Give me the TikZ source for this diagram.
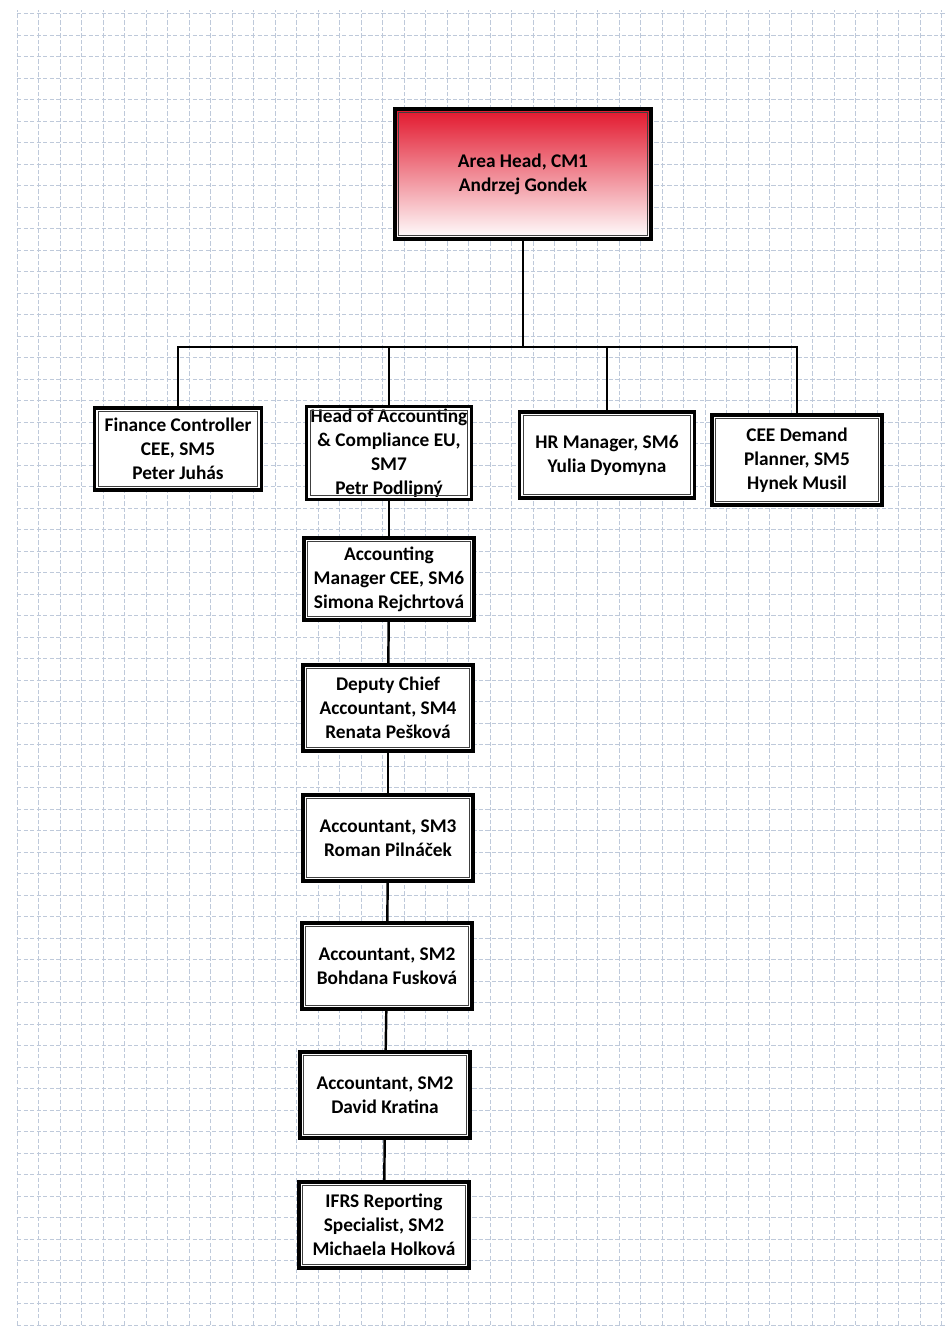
\documentclass[tikz,border=0pt]{standalone}
\usepackage{fontspec}
\setmainfont{Carlito}

\definecolor{gridblue}{RGB}{190,201,218}
\definecolor{headred}{RGB}{226,22,44}

\begin{document}
\begin{tikzpicture}[
	orgbox/.style = {draw, line width = 1.8pt, fill = white, align = center, minimum width = 3.4 cm, minimum height = 1.72 cm, inner sep = 2pt, font = \fontsize{11}{13.6}\selectfont\bfseries},
	link/.style = {line width = 1.4pt},
	gridline/.style = {draw = gridblue, line width = 0.4pt, dash pattern = on 2.5pt off 1.2pt}
]

	\useasboundingbox (0, 0) rectangle (18.92, 26.66);

	% Paper grid
	
	\begin{scope}[shift = {(0.34, 0.16)}]
		\draw [gridline, step = 0.43] (0, 0) grid (18.6, 26.3);
	\end{scope}
	
	% Area head
	
	\node [orgbox, minimum width = 5.12 cm, minimum height = 2.6 cm, top color = headred, bottom color = white] (head) at (10.46, 23.18) {Area Head, CM1\\Andrzej Gondek};
	
	% Direct reports
	
	\node [orgbox, minimum width = 3.34 cm, minimum height = 1.64 cm] (fin) at (3.56, 17.68) {Finance Controller\\CEE, SM5\\Peter Juhás};
	\node [orgbox, minimum width = 3.3 cm, minimum height = 1.86 cm, inner ysep = 0pt] (hoa) at (7.78, 17.60) {Head of Accounting\\\& Compliance EU,\\SM7\\Petr Podlipný};
	\node [orgbox, minimum width = 3.5 cm] (hr) at (12.14, 17.56) {HR Manager, SM6\\Yulia Dyomyna};
	\node [orgbox, minimum height = 1.8 cm] (cee) at (15.94, 17.46) {CEE Demand\\Planner, SM5\\Hynek Musil};
	
	% Accounting column
	
	\node [orgbox, minimum height = 1.64 cm] (accm) at (7.78, 15.08) {Accounting\\Manager CEE, SM6\\Simona Rejchrtová};
	\node [orgbox] (dep) at (7.76, 12.5) {Deputy Chief\\Accountant, SM4\\Renata Pešková};
	\node [orgbox] (acc3) at (7.76, 9.9) {Accountant, SM3\\Roman Pilnáček};
	\node [orgbox] (acc2a) at (7.74, 7.34) {Accountant, SM2\\Bohdana Fusková};
	\node [orgbox] (acc2b) at (7.70, 4.76) {Accountant, SM2\\David Kratina};
	\node [orgbox] (ifrs) at (7.68, 2.16) {IFRS Reporting\\Specialist, SM2\\Michaela Holková};
	
	% Inner frames
	
	\foreach \nd in {head, fin, hoa, hr, cee, accm, dep, acc3, acc2a, acc2b, ifrs}
		\draw [line width = 0.6pt, black!75] ([shift = {(3pt, -3pt)}] \nd.north west) rectangle ([shift = {(-3pt, 3pt)}] \nd.south east);
	
	% Connectors
	
	\coordinate (split) at (10.46, 19.72);
	\draw [link] (head) -- (split);
	\draw [link] (fin) |- (split) -| (cee);
	\draw [link] (hoa) -- (hoa |- split);
	\draw [link] (hr) -- (hr |- split);
	
	\draw [link] (hoa) -- (accm);
	\draw [link] (accm) -- (dep);
	\draw [link] (dep) -- (acc3);
	\draw [link] (acc3) -- (acc2a);
	\draw [link] (acc2a) -- (acc2b);
	\draw [link] (acc2b) -- (ifrs);
	
\end{tikzpicture}
\end{document}
